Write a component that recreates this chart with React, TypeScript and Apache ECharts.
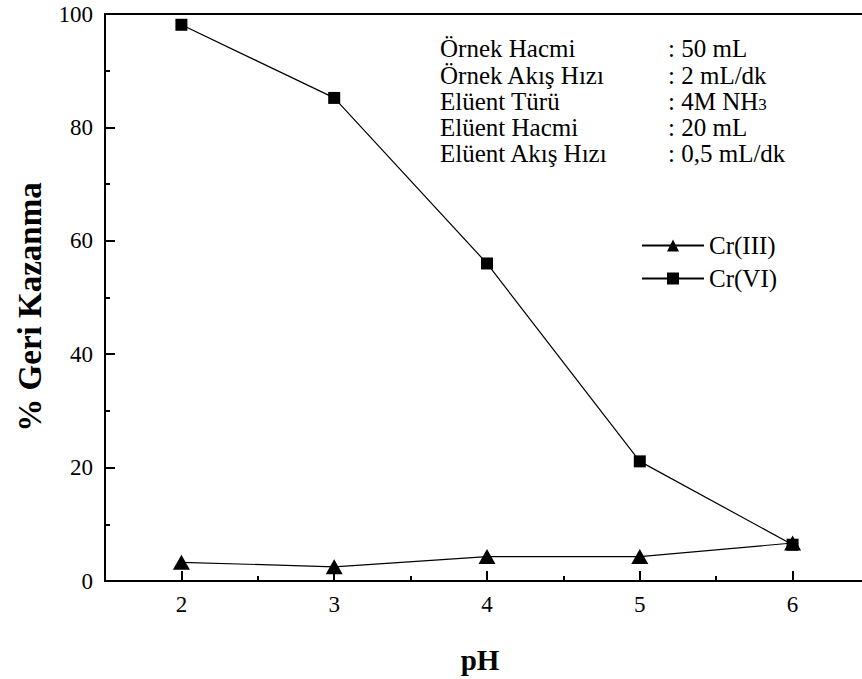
import React, { useEffect, useRef } from "react";
import * as echarts from "echarts";

const pHValues = [2, 3, 4, 5, 6];
const crIII = [3.3, 2.5, 4.3, 4.3, 6.7];
const crVI = [98.1, 85.2, 56.0, 21.1, 6.4];
const xMajorTicks = [2, 3, 4, 5, 6];
const xMinorTicks = [2.5, 3.5, 4.5, 5.5];
const infoLabels = ["Örnek Hacmi", "Örnek Akış Hızı", "Elüent Türü", "Elüent Hacmi", "Elüent Akış Hızı"];
const infoValues = [": 50 mL", ": 2 mL/dk", ": 4M NH{sub|3}", ": 20 mL", ": 0,5 mL/dk"];

const FONT = "Times New Roman, Liberation Serif, serif";

export default function App() {
  const ref = useRef<HTMLDivElement>(null);
  useEffect(() => {
    document.body.style.margin = "0";
    const chart = echarts.init(ref.current!, null, { renderer: "svg" });
    const black = "#000";
    const rowY = [48, 75, 101, 127, 153];
    const graphics: any[] = [];
    infoLabels.forEach((t, i) => {
      graphics.push({
        type: "text",
        x: 440,
        y: rowY[i],
        style: { text: t, fontFamily: FONT, fontSize: 25, fill: black, verticalAlign: "middle", align: "left" },
      });
      graphics.push({
        type: "text",
        x: 668,
        y: rowY[i],
        style: {
          text: infoValues[i],
          fontFamily: FONT,
          fontSize: 25,
          fill: black,
          verticalAlign: "middle",
          align: "left",
          rich: { sub: { fontFamily: FONT, fontSize: 17, fill: black, verticalAlign: "bottom", padding: [0, 0, 1, 0] } },
        },
      });
    });
    graphics.push({
      type: "text",
      x: 30,
      y: 307,
      rotation: Math.PI / 2,
      style: { text: "% Geri Kazanma", fontFamily: FONT, fontWeight: "bold", fontSize: 33, fill: black, align: "center", verticalAlign: "middle" },
    });
    graphics.push({
      type: "text",
      x: 480,
      y: 660,
      style: { text: "pH", fontFamily: FONT, fontWeight: "bold", fontSize: 29, fill: black, align: "center", verticalAlign: "middle" },
    });

    const baseX = { type: "value", min: 1.5, max: 6.5, interval: 0.5, splitLine: { show: false } };

    chart.setOption({
      animation: false,
      backgroundColor: "#fff",
      textStyle: { fontFamily: FONT },
      grid: { left: 105, width: 764, top: 14, height: 567, containLabel: false, outerBoundsMode: "none" },
      legend: {
        orient: "vertical",
        left: 636,
        top: 228,
        itemWidth: 62,
        itemHeight: 15,
        itemGap: 8,
        data: ["Cr(III)", "Cr(VI)"],
        textStyle: { fontFamily: FONT, fontSize: 25, color: black },
      },
      xAxis: [
        {
          ...baseX,
          position: "bottom",
          axisLine: { show: true, onZero: false, lineStyle: { color: black, width: 2 } },
          axisTick: { show: true, inside: true, length: 10, lineStyle: { color: black, width: 2 }, customValues: xMajorTicks },
          axisLabel: { show: true, customValues: xMajorTicks, fontFamily: FONT, fontSize: 23, color: black, margin: 12 },
        },
        {
          ...baseX,
          position: "bottom",
          axisLine: { show: false, onZero: false },
          axisTick: { show: true, inside: true, length: 5, lineStyle: { color: black, width: 2 }, customValues: xMinorTicks },
          axisLabel: { show: false },
        },
        {
          ...baseX,
          position: "top",
          axisLine: { show: true, onZero: false, lineStyle: { color: black, width: 2 } },
          axisTick: { show: false },
          axisLabel: { show: false },
        },
      ],
      yAxis: {
        type: "value",
        min: 0,
        max: 100,
        interval: 20,
        splitLine: { show: false },
        axisLine: { show: true, onZero: false, lineStyle: { color: black, width: 2 } },
        axisTick: { show: true, inside: true, length: 10, lineStyle: { color: black, width: 2 } },
        minorTick: { show: true, splitNumber: 2, length: 5, lineStyle: { color: black, width: 2 } },
        axisLabel: { fontFamily: FONT, fontSize: 23, color: black, margin: 12 },
      },
      series: [
        {
          name: "Cr(VI)",
          type: "line",
          xAxisIndex: 0,
          data: pHValues.map((x, i) => [x, crVI[i]]),
          symbol: "rect",
          symbolSize: 12,
          lineStyle: { color: black, width: 1.2 },
          itemStyle: { color: black },
        },
        {
          name: "Cr(III)",
          type: "line",
          xAxisIndex: 0,
          data: pHValues.map((x, i) => [x, crIII[i]]),
          symbol: "triangle",
          symbolSize: [17, 15],
          lineStyle: { color: black, width: 1.2 },
          itemStyle: { color: black },
        },
      ],
      graphic: graphics,
    });
    return () => chart.dispose();
  }, []);
  return <div ref={ref} style={{ position: "absolute", left: 0, top: 0, width: 862, height: 679 }} />;
}
